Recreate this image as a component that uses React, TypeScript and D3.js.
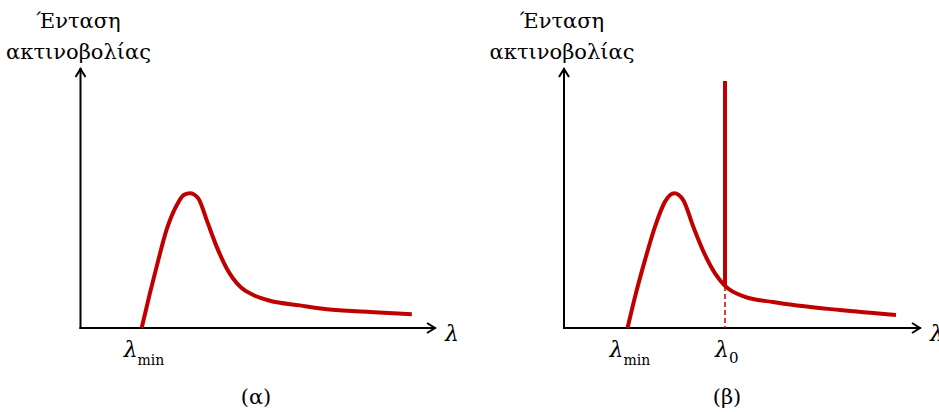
import React from 'react';
import * as d3 from 'd3';

// Panel (α): continuous spectrum — wavelength (arbitrary units 0–100) and intensity (0–100)
const lambdaA = [17.2, 19.55, 21.9, 24.2, 27.1, 29.1, 30.8, 33.1, 35.5, 38.3, 41.1, 44.9, 48.6, 53.3, 61.7, 69.3, 81.4, 93.2];
const intensityA = [0, 13.5, 26.2, 37.7, 47.3, 51.2, 51.8, 49.9, 41.5, 31.3, 23.0, 15.9, 12.7, 10.5, 8.7, 7.2, 6.2, 5.3];

// Panel (β): continuous spectrum plus characteristic line at λ0
const lambdaB = [17.8, 19.9, 22.7, 25.5, 28.3, 30.9, 33.4, 36.2, 39.5, 42.3, 45.1, 50.7, 58.5, 77.3, 93.0];
const intensityB = [0, 12.0, 26.2, 39.0, 48.6, 51.8, 49.2, 39.0, 28.1, 21.0, 16.2, 12.0, 10.0, 6.9, 5.0];
const lambda0 = 45.1;
const lambda0Base = 16.2;
const lambda0Peak = 95;
const lambdaMinA = 17.2;
const lambdaMinB = 17.8;

const yLabel = ['Ένταση', 'ακτινοβολίας'];
const panelLabels = ['(α)', '(β)'];

const RED = '#C00000';

type PanelProps = {
  x0: number; x1: number; xs: number[]; ys: number[]; lmin: number; label: string; line?: boolean;
};

function Panel({ x0, x1, xs, ys, lmin, label, line }: PanelProps) {
  const x = d3.scaleLinear().domain([0, 100]).range([x0, x1]);
  const y = d3.scaleLinear().domain([0, 100]).range([328, 68]);
  const pts: [number, number][] = xs.map((v, i) => [v, ys[i]]);
  const path = d3.line<[number, number]>()
    .x(d => x(d[0]))
    .y(d => y(d[1]))
    .curve(d3.curveMonotoneX)(pts) || '';
  const ox = x(0), oy = y(0), tx = x(100), ty = y(100);
  const cx = ox - 2;
  return (
    <g>
      <line x1={ox} y1={oy + 1} x2={ox} y2={ty} stroke="#000" strokeWidth={2} />
      <polyline points={`${ox - 5},${ty + 9} ${ox},${ty + 1} ${ox + 5},${ty + 9}`} fill="none" stroke="#000" strokeWidth={2} />
      <line x1={ox - 1} y1={oy} x2={tx} y2={oy} stroke="#000" strokeWidth={2} />
      <polyline points={`${tx - 9},${oy - 5} ${tx - 1},${oy} ${tx - 9},${oy + 5}`} fill="none" stroke="#000" strokeWidth={2} />
      <text x={cx} y={28} textAnchor="middle" fontSize={21}>{yLabel[0]}</text>
      <text x={cx} y={59} textAnchor="middle" fontSize={21}>{yLabel[1]}</text>
      <text x={tx + 9} y={341} fontSize={22} fontStyle="italic">λ</text>
      <path d={path} fill="none" stroke={RED} strokeWidth={4} strokeLinejoin="round" />
      {line && (
        <g>
          <line x1={x(lambda0)} x2={x(lambda0)} y1={y(lambda0Base)} y2={y(lambda0Peak)} stroke={RED} strokeWidth={4} />
          <line x1={x(lambda0)} x2={x(lambda0)} y1={y(lambda0Base)} y2={oy} stroke={RED} strokeWidth={1.5} strokeDasharray="5,3" />
          <text x={x(lambda0) - 10} y={357} fontSize={22} fontStyle="italic">λ<tspan dy={6} fontSize={15} fontStyle="normal">0</tspan></text>
        </g>
      )}
      <text x={x(lmin) - 18} y={357} fontSize={22} fontStyle="italic">λ<tspan dy={8} fontSize={14} fontStyle="normal">min</tspan></text>
      <text x={line ? x(lambda0) + 2 : 256} y={404} textAnchor="middle" fontSize={21}>{label}</text>
    </g>
  );
}

export default function App() {
  return (
    <svg width={939} height={412} fontFamily="DejaVu Serif" style={{ position: 'absolute', left: 0, top: 0, background: '#fff' }}>
      <rect width={939} height={412} fill="#fff" />
      <Panel x0={80.5} x1={436} xs={lambdaA} ys={intensityA} lmin={lambdaMinA} label={panelLabels[0]} />
      <Panel x0={564} x1={921} xs={lambdaB} ys={intensityB} lmin={lambdaMinB} label={panelLabels[1]} line />
    </svg>
  );
}
